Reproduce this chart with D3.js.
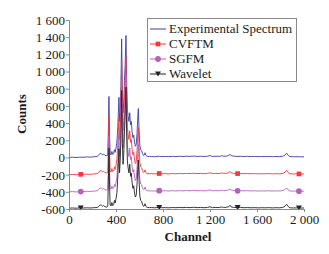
<!DOCTYPE html>
<html><head><meta charset="utf-8">
<script src="https://cdn.jsdelivr.net/npm/d3@7/dist/d3.min.js"></script>
<style>
html,body{margin:0;padding:0;background:#fff;}
svg{display:block;font-family:"Liberation Serif","Times New Roman",serif;}
</style></head>
<body>
<svg id="chart" width="329" height="254"></svg>
<script>
// ---- data ----
const channels = [
  0,30,60,90,120,150,180,210,240,255,265,275,285,295,305,320,
  330,335,340,345,350,358,365,372,380,387,393,400,408,415,420,425,430,436,442,448,
  454,460,466,472,478,485,491,497,503,510,517,524,530,537,544,551,558,565,572,579,
  585,590,596,603,610,618,626,634,641,647,654,662,672,685,
  700,730,760,790,820,850,880,910,940,970,1000,1030,1060,1090,1120,1150,1180,1200,1220,1250,
  1280,1300,1315,1340,1360,1370,1380,1400,1430,1460,1490,1520,1550,1580,1610,1640,1670,1700,1730,1760,
  1790,1820,1840,1852,1865,1880,1910,1940,1970,2000
];
const experimental = [
  0,3,-2,4,2,6,4,8,12,30,48,45,30,40,25,20,
  25,320,710,280,40,30,70,35,45,90,60,110,180,350,520,700,420,560,820,1380,
  760,520,640,900,1080,1420,860,560,480,420,520,380,420,300,230,260,170,130,150,280,
  460,570,330,140,90,80,45,25,30,55,25,15,12,10,
  12,8,14,10,12,9,13,10,14,11,15,12,16,12,14,11,15,22,12,14,
  13,20,14,16,22,38,20,15,12,14,11,13,10,12,9,11,10,12,9,11,
  10,14,30,50,25,10,8,9,7,8
];
const cvftm = [
  -200,-197,-202,-196,-198,-194,-196,-192,-188,-170,-152,-155,-170,-160,-175,-180,
  -175,110,480,80,-160,-170,-130,-165,-155,-110,-140,-90,-20,140,300,470,210,350,600,1130,
  550,310,430,680,850,1180,640,350,270,210,310,175,210,95,30,60,-30,-70,-50,80,
  250,350,130,-60,-110,-120,-155,-175,-170,-145,-175,-185,-188,-190,
  -188,-192,-186,-190,-188,-191,-187,-190,-186,-189,-185,-188,-184,-188,-186,-189,-185,-178,-188,-186,
  -187,-180,-186,-184,-178,-162,-180,-185,-188,-186,-189,-187,-190,-188,-191,-189,-190,-188,-191,-189,
  -190,-186,-170,-150,-175,-190,-192,-191,-193,-192
];
const sgfm = [
  -400,-397,-402,-396,-398,-394,-396,-392,-388,-372,-355,-356,-368,-362,-375,-380,
  -375,-120,250,-130,-360,-370,-335,-365,-355,-315,-340,-295,-225,-60,100,260,10,150,390,900,
  340,110,230,470,640,960,430,150,70,10,110,-25,10,-105,-170,-140,-230,-270,-250,-120,
  50,150,-70,-260,-310,-320,-355,-375,-370,-345,-375,-385,-388,-390,
  -388,-392,-386,-390,-388,-391,-387,-390,-386,-389,-385,-388,-384,-388,-386,-389,-385,-378,-388,-386,
  -387,-380,-386,-384,-378,-365,-380,-385,-388,-386,-389,-387,-390,-388,-391,-389,-390,-388,-391,-389,
  -390,-386,-372,-355,-377,-390,-392,-391,-393,-392
];
const wavelet = [
  -590,-588,-591,-587,-589,-586,-588,-585,-583,-568,-552,-555,-568,-560,-573,-578,
  -570,-280,110,-310,-555,-565,-525,-560,-548,-500,-530,-480,-410,-240,-70,100,-180,-30,220,780,
  170,-80,40,300,480,820,260,-40,-120,-180,-80,-220,-180,-290,-360,-330,-420,-460,-440,-310,
  -140,-30,-260,-450,-500,-510,-548,-568,-563,-538,-568,-578,-582,-584,
  -583,-586,-582,-585,-584,-586,-583,-585,-582,-584,-581,-584,-580,-584,-582,-585,-581,-574,-584,-582,
  -583,-576,-582,-580,-574,-556,-576,-581,-584,-582,-585,-583,-586,-584,-587,-585,-586,-584,-587,-585,
  -586,-582,-565,-545,-570,-586,-588,-587,-589,-588
];
const seriesNames = ["Experimental Spectrum","CVFTM","SGFM","Wavelet"];
const seriesColors = ["#3b3ca6","#f2393d","#b562bd","#222222"];
const seriesMarkers = ["none","square","circle","triangle"];
const markerChannels = [100,768,1435,1957];
const xTicks = [0,400,800,1200,1600,2000];
const yTicks = [-600,-400,-200,0,200,400,600,800,1000,1200,1400,1600];
const xLabel = "Channel", yLabel = "Counts";

// ---- layout ----
const svg = d3.select("#chart");
const m = {left:69, top:20, right:304, bottom:209};
const x = d3.scaleLinear().domain([0,2000]).range([m.left,m.right]);
const y = d3.scaleLinear().domain([-600,1600]).range([m.bottom,m.top]);
const fmt = v => { const s = Math.abs(v).toString(); const t = s.length>3 ? s.slice(0,s.length-3)+" "+s.slice(-3) : s; return (v<0?"-":"")+t; };

const allSeries = [experimental,cvftm,sgfm,wavelet];
allSeries.forEach(s=>{ if(s.length!==channels.length) console.error("length mismatch", s.length, channels.length); });

// lines
const line = d3.line().x(d=>x(d[0])).y(d=>y(d[1]));
allSeries.forEach((vals,i)=>{
  const pts = channels.map((c,k)=>[c,vals[k]]);
  svg.append("path").datum(pts).attr("d",line).attr("fill","none")
    .attr("stroke",seriesColors[i]).attr("stroke-width",0.9).attr("stroke-linejoin","round");
});

function markerPath(type){
  if(type==="square") return d3.symbol().type(d3.symbolSquare).size(22)();
  if(type==="circle") return d3.symbol().type(d3.symbolCircle).size(26)();
  if(type==="triangle") return "M-3,-2.5L3,-2.5L0,2.5Z";
  return null;
}
const interp = (vals,c)=>{
  const i = d3.bisectLeft(channels,c);
  if(i<=0) return vals[0];
  const c0=channels[i-1], c1=channels[i], t=(c-c0)/(c1-c0);
  return vals[i-1]+(vals[i]-vals[i-1])*t;
};
allSeries.forEach((vals,i)=>{
  const p = markerPath(seriesMarkers[i]); if(!p) return;
  markerChannels.forEach(c=>{
    svg.append("path").attr("d",p)
      .attr("transform",`translate(${x(c)},${y(interp(vals,c))})`)
      .attr("fill",seriesColors[i]);
  });
});

// axes
const axCol = "#8a8a8a";
const gx = svg.append("g").attr("transform",`translate(0,${m.bottom})`)
  .call(d3.axisBottom(x).tickValues(xTicks).tickFormat(fmt).tickSize(3).tickPadding(3));
const gy = svg.append("g").attr("transform",`translate(${m.left},0)`)
  .call(d3.axisLeft(y).tickValues(yTicks).tickFormat(fmt).tickSize(3).tickPadding(1));
[gx,gy].forEach(g=>{
  g.select(".domain").attr("stroke",axCol).attr("stroke-width",1);
  g.selectAll(".tick line").attr("stroke",axCol);
  g.selectAll("text").attr("fill","#1a1a1a").style("font-size","13px")
    .style("font-family","'Liberation Serif','Times New Roman',serif");
});
gy.selectAll("text").attr("dy","0.34em");

svg.append("text").attr("x",188).attr("y",241).attr("text-anchor","middle")
  .style("font-size","13px").style("font-weight","bold").attr("fill","#1a1a1a").text(xLabel);
svg.append("text").attr("transform","translate(26,114) rotate(-90)").attr("text-anchor","middle")
  .style("font-size","13px").style("font-weight","bold").attr("fill","#1a1a1a").text(yLabel);

// legend
const lg = svg.append("g");
lg.append("rect").attr("x",147.5).attr("y",18.5).attr("width",149).attr("height",63)
  .attr("fill","#fff").attr("stroke","#8a8a8a").attr("stroke-width",1);
seriesNames.forEach((n,i)=>{
  const yy = 29 + i*15;
  lg.append("line").attr("x1",150).attr("x2",166).attr("y1",yy).attr("y2",yy)
    .attr("stroke",seriesColors[i]).attr("stroke-width",1);
  const p = markerPath(seriesMarkers[i]);
  if(p) lg.append("path").attr("d",p).attr("transform",`translate(158,${yy})`).attr("fill",seriesColors[i]);
  lg.append("text").attr("x",169).attr("y",yy).attr("dy","0.34em")
    .style("font-size","13px").attr("fill","#1a1a1a").text(n);
});
</script>
</body></html>
